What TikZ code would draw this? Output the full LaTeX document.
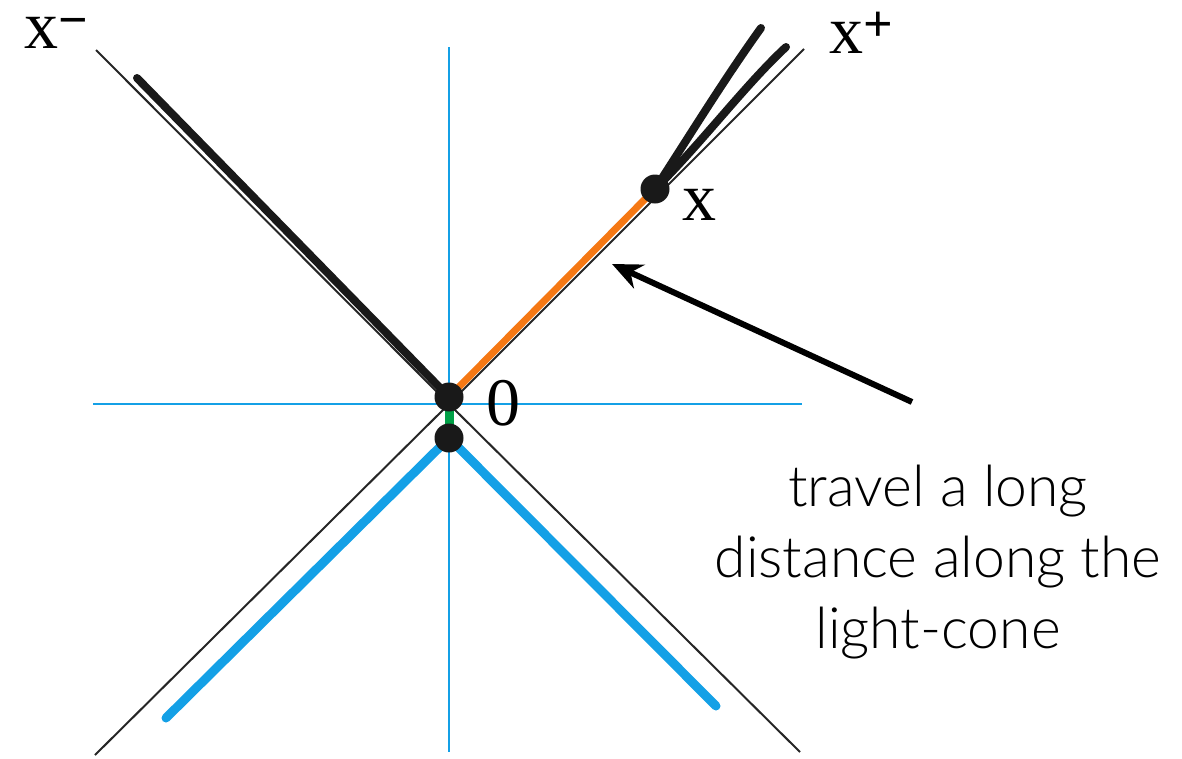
\documentclass[tikz,border=0pt]{standalone}
\usepackage{fontspec}
\setmainfont{Liberation Serif}
\newfontfamily\annfont{Lato Light}
\usetikzlibrary{arrows.meta}
\definecolor{axisblue}{RGB}{20,160,230}
\definecolor{orng}{RGB}{245,120,20}
\definecolor{grn}{RGB}{0,160,70}
\newcommand{\supsign}[2]{\smash{\raisebox{#1}{\fontsize{52}{52}\selectfont\textbf{#2}}}}
\begin{document}
\begin{tikzpicture}[x=1pt,y=-1pt,
  thinline/.style={black!85,line width=2pt},
  thickline/.style={black!90,line width=8pt},
  axisline/.style={axisblue,line width=1.5pt},
  blueline/.style={axisblue,line width=9pt},
  dot/.style={circle,fill=black!90,minimum size=29pt,inner sep=0pt},
  lbl/.style={font=\fontsize{68}{72}\selectfont,inner sep=0pt},
]
\useasboundingbox (0,0) rectangle (1182,758);
% positions
\coordinate (op) at (449,397);
\coordinate (bp) at (449,438);
\coordinate (Xp) at (655,189);
% axes
\coordinate (vt) at (449,47); \coordinate (vb) at (449,752);
\coordinate (hl) at (93,404); \coordinate (hr) at (802,404);
\draw[axisline] (vt) -- (vb);
\draw[axisline] (hl) -- (hr);
% light cone thin lines
\coordinate (O) at (449,404);
\coordinate (ul) at (96,50); \coordinate (ur) at (804,49);
\coordinate (ll) at (95,755); \coordinate (lr) at (800,752);
\draw[thinline] (ul) -- (O) -- (lr);
\draw[thinline] (ll) -- (O) -- (ur);
% thick black left
\coordinate (tl) at (137,78);
\draw[thickline,line cap=round] (tl) -- (op);
% orange
\draw[orng,line width=7pt] (op) -- (Xp);
% green
\draw[grn,line width=9pt] (op) -- (bp);
% blue thick
\coordinate (bl) at (166,718); \coordinate (br) at (716,706);
\draw[blueline,line cap=round] (bp) -- (bl);
\draw[blueline,line cap=round] (bp) -- (br);
% fan
\coordinate (f1) at (761,28); \coordinate (f2) at (786,47);
\draw[thickline,line cap=round] (Xp) .. controls (690,135) and (725,78) .. (f1);
\draw[thickline,line cap=round] (Xp) .. controls (700,145) and (745,85) .. (f2);
% dots
\node[dot] (o) at (op) {};
\node[dot] (b) at (bp) {};
\node[dot] (X) at (Xp) {};
% labels
\node[lbl,anchor=base west] (xm) at (24,48) {x\supsign{11pt}{−}};
\node[lbl,anchor=base west] (xp) at (829,53) {x\supsign{12pt}{+}};
\node[lbl,anchor=base west] (xl) at (682,220) {x};
\node[lbl,anchor=base west] (zero) at (486,425) {0};
% annotation
\node[font=\annfont\fontsize{57}{71}\selectfont,align=center,inner sep=0pt,anchor=base] (txt) at (938,648) {travel a long\\distance along the\\light-cone};
\coordinate (as) at (912,402); \coordinate (ae) at (612,264);
\draw[black,line width=6pt,-{Stealth[length=30pt,width=26pt]}] (as) -- (ae);
\end{tikzpicture}
\end{document}
